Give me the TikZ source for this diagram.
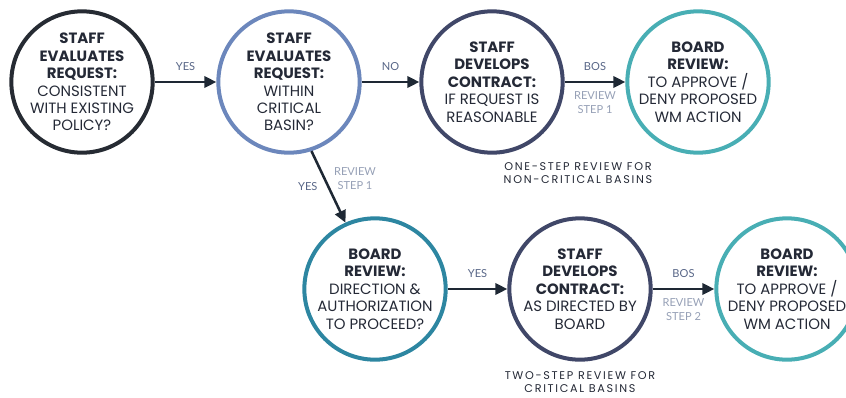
\documentclass[tikz,border=0pt]{standalone}
\usepackage{fontspec}
\setmainfont{Poppins}
\newfontfamily\labelfont{Lato}
\newfontfamily\capfont[LetterSpace=15]{Poppins}
\definecolor{wmcharcoal}{RGB}{38,43,51}
\definecolor{wmperiwinkle}{RGB}{108,135,188}
\definecolor{wmslate}{RGB}{64,71,104}
\definecolor{wmteal}{RGB}{72,174,180}
\definecolor{wmocean}{RGB}{45,134,161}
\definecolor{wmarrow}{RGB}{30,40,52}
\definecolor{wmtext}{RGB}{36,41,54}
\definecolor{wmlabel}{RGB}{88,102,135}
\definecolor{wmsoft}{RGB}{150,160,182}
\usetikzlibrary{arrows.meta}

\tikzset{
  stepcircle/.style={draw=#1, line width=3pt, circle, minimum size=106pt, inner sep=0pt},
  steptext/.style={align=center, text=wmtext, font=\fontsize{11.2}{13.1}\selectfont},
  flow/.style={-{Triangle[length=9pt,width=8.5pt]}, line width=1.9pt, draw=wmarrow},
  flowlabel/.style={text=wmlabel, font=\labelfont\fontsize{8.3}{10.5}\selectfont, align=center},
  steplabel/.style={flowlabel, text=wmsoft},
  caption/.style={text=wmtext, align=center, font=\capfont\fontsize{8.4}{9.9}\selectfont}
}

\begin{document}
\begin{tikzpicture}[x=0.75pt, y=-0.75pt]
    \clip (0,0) rectangle (846,397);

    % Top row: request screening
    \node[stepcircle=wmcharcoal] (policy) at (82,82) {};
    \node[steptext] at (policy) {\textbf{STAFF}\\\textbf{EVALUATES}\\\textbf{REQUEST:}\\CONSISTENT\\WITH EXISTING\\POLICY?};

    \node[stepcircle=wmperiwinkle] (basin) at (289,82) {};
    \node[steptext] at (basin) {\textbf{STAFF}\\\textbf{EVALUATES}\\\textbf{REQUEST:}\\WITHIN\\CRITICAL\\BASIN?};

    \node[stepcircle=wmslate] (contract) at (492,82) {};
    \node[steptext] at (contract) {\textbf{STAFF}\\\textbf{DEVELOPS}\\\textbf{CONTRACT:}\\IF REQUEST IS\\REASONABLE};

    \node[stepcircle=wmteal] (approve) at (698,82) {};
    \node[steptext] at (approve) {\textbf{BOARD}\\\textbf{REVIEW:}\\TO APPROVE /\\DENY PROPOSED\\WM ACTION};

    % Bottom row: critical basins
    \node[stepcircle=wmocean] (direction) at (375,289) {};
    \node[steptext] at (direction) {\textbf{BOARD}\\\textbf{REVIEW:}\\DIRECTION \&\\AUTHORIZATION\\TO PROCEED?};

    \node[stepcircle=wmslate] (directed) at (580,289) {};
    \node[steptext] at (directed) {\textbf{STAFF}\\\textbf{DEVELOPS}\\\textbf{CONTRACT:}\\AS DIRECTED BY\\BOARD};

    \node[stepcircle=wmteal] (approvetwo) at (787,289) {};
    \node[steptext] at (approvetwo) {\textbf{BOARD}\\\textbf{REVIEW:}\\TO APPROVE /\\DENY PROPOSED\\WM ACTION};

    % Arrows
    \draw[flow] (policy.east) -- node[above=4pt, flowlabel] {YES} (basin.west);
    \draw[flow] (basin.east) -- node[above=4pt, flowlabel] {NO} (contract.west);
    \draw[flow] (contract.east) -- node[above=4pt, flowlabel] {BOS}
        node[below=3pt, steplabel] {REVIEW\\STEP 1} (approve.west);
    \draw[flow] (basin.-72) -- node[left=4pt, flowlabel] {YES}
        node[pos=0.38, anchor=west, xshift=3pt, steplabel] {REVIEW\\STEP 1} (direction.114);
    \draw[flow] (direction.east) -- node[above=4pt, flowlabel] {YES} (directed.west);
    \draw[flow] (directed.east) -- node[above=4pt, flowlabel] {BOS}
        node[below=3pt, steplabel] {REVIEW\\STEP 2} (approvetwo.west);

    % Captions
    \node[caption] (onestep) at (578,173) {ONE-STEP REVIEW FOR\\NON-CRITICAL BASINS};
    \node[caption] (twostep) at (580,382) {TWO-STEP REVIEW FOR\\CRITICAL BASINS};
\end{tikzpicture}
\end{document}
